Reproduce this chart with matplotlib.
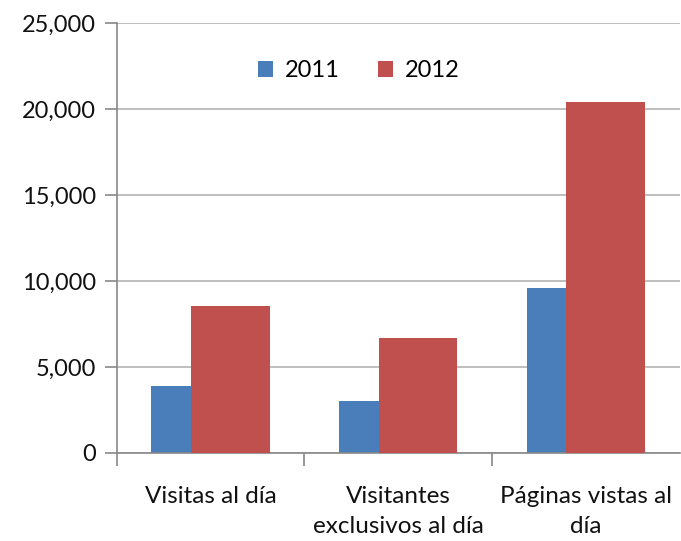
import numpy as np
from matplotlib import pyplot as plt

categories = ["Visitas al día", "Visitantes\nexclusivos al día", "Páginas vistas al\ndía"]
years = ["2011", "2012"]
values_2011 = [3880, 3040, 9590]
values_2012 = [8580, 6710, 20420]
yticks = [0, 5000, 10000, 15000, 20000, 25000]

blue = "#4A7EBB"
red = "#C0504D"

plt.rcParams['font.family'] = ['Lato', 'DejaVu Sans']

fig = plt.figure(figsize=(6.81, 5.41), dpi=100)
ax = fig.add_axes([0.1718, 0.1627, 0.826, 0.7939])

x = np.arange(len(categories))
w = 0.42
off = 0.106  # bars overlap, 2012 drawn over 2011
ax.bar(x - off, values_2011, w, color=blue, label=years[0], zorder=2)
ax.bar(x + off, values_2012, w, color=red, label=years[1], zorder=3)

ax.set_xlim(-0.5, len(categories) - 0.5)
ax.set_ylim(0, 25000)
ax.set_yticks(yticks)
ax.set_yticklabels(["{:,}".format(v) for v in yticks])
ax.grid(axis='y', color='#b3b3b3', linewidth=1.2, zorder=0)
ax.set_axisbelow(True)

ax.set_xticks(x)
ax.set_xticklabels(categories, linespacing=1.5)
ax.set_xticks(np.arange(len(categories)) - 0.5, minor=True)
ax.tick_params(axis='x', which='major', length=0, pad=24, labelsize=17.5)
ax.tick_params(axis='x', which='minor', length=9, width=1.2, direction='out')
ax.tick_params(axis='y', length=9, width=1.2, labelsize=17, pad=6)
ax.tick_params(axis='both', which='both', colors='#888888', labelcolor='#111111')

for s in ['top', 'right']:
    ax.spines[s].set_visible(False)
for s in ['left', 'bottom']:
    ax.spines[s].set_color('#888888')
    ax.spines[s].set_linewidth(1.2)

ax.legend(loc='center', bbox_to_anchor=(0.43, 0.89), ncol=2, frameon=False,
          fontsize=17, handlelength=0.65, handleheight=0.65, handletextpad=0.5,
          columnspacing=1.6)

fig.savefig("out.png", dpi=100)
